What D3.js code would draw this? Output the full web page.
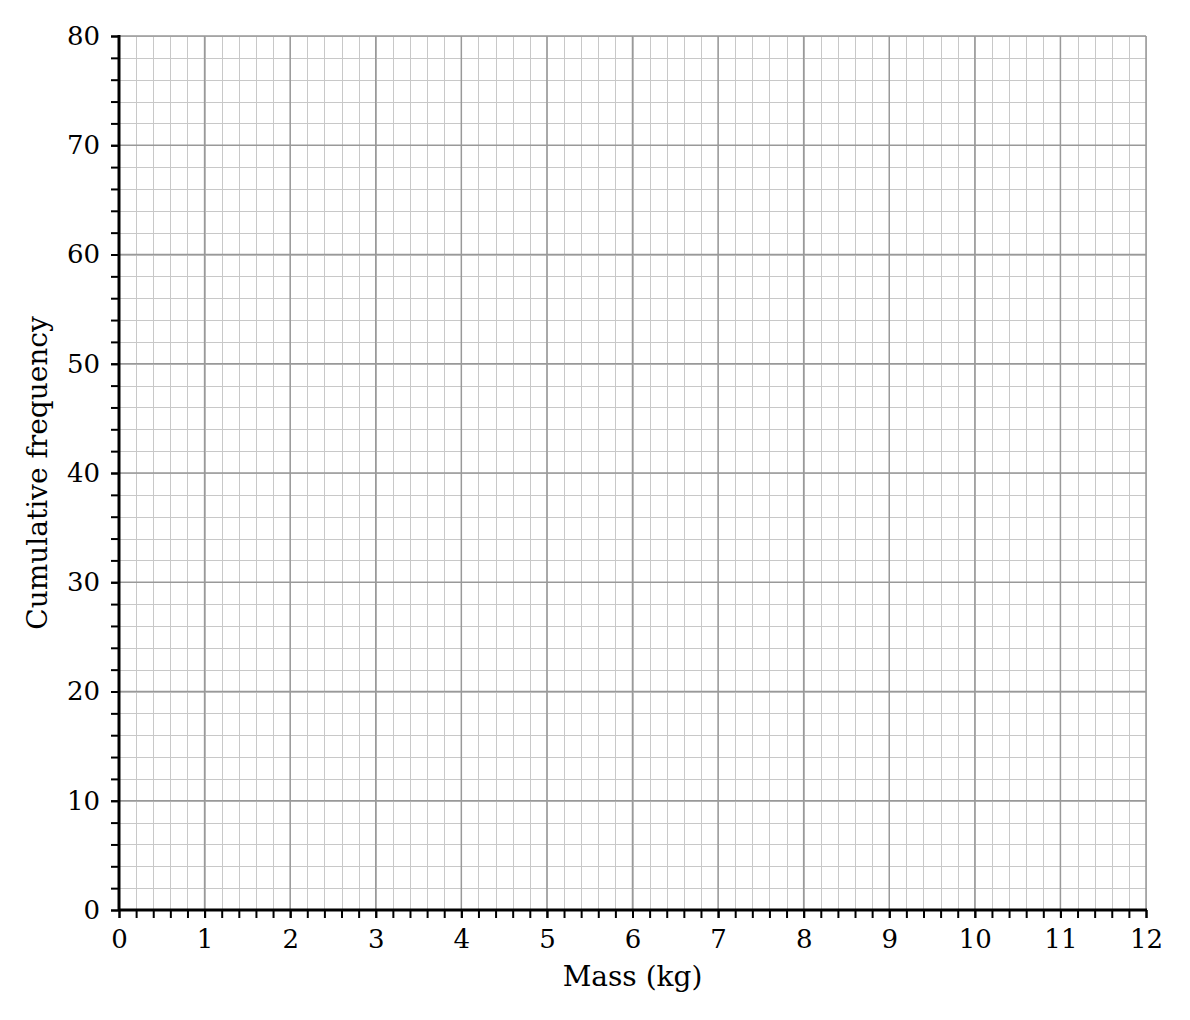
<!DOCTYPE html>
<html>
<head>
<meta charset="utf-8">
<script src="https://cdn.jsdelivr.net/npm/d3@7"></script>
<style>
  body { margin: 0; background: #fff; }
  svg text { font-family: "DejaVu Serif", serif; fill: #000; }
</style>
</head>
<body>
<svg id="chart" width="1190" height="1020"></svg>
<script>
const xDomain = [0, 12]
const yDomain = [0, 80]
const xMajorTicks = d3.range(0, 13, 1)
const xMinorTicks = d3.range(0, 12.001, 0.2)
const yMajorTicks = d3.range(0, 81, 10)
const yMinorTicks = d3.range(0, 80.001, 2)
const xLabel = "Mass (kg)"
const yLabel = "Cumulative frequency"

const svg = d3.select("#chart")
const margin = { top: 36, right: 44, bottom: 110, left: 119 }
const width = 1190 - margin.left - margin.right
const height = 1020 - margin.top - margin.bottom

const x = d3.scaleLinear().domain(xDomain).range([0, width])
const y = d3.scaleLinear().domain(yDomain).range([height, 0])
const g = svg.append("g").attr("transform", `translate(${margin.left},${margin.top})`)

// minor grid
g.append("g").selectAll("line")
  .data(xMinorTicks)
  .join("line")
  .attr("x1", (d) => Math.round(x(d)) + 0.5).attr("x2", (d) => Math.round(x(d)) + 0.5)
  .attr("y1", 0).attr("y2", height)
  .attr("stroke", "#c8c8c8").attr("stroke-width", 1)

g.append("g").selectAll("line")
  .data(yMinorTicks)
  .join("line")
  .attr("y1", (d) => Math.round(y(d)) + 0.5).attr("y2", (d) => Math.round(y(d)) + 0.5)
  .attr("x1", 0).attr("x2", width)
  .attr("stroke", "#c8c8c8").attr("stroke-width", 1)

// major grid
g.append("g").selectAll("line")
  .data(xMajorTicks)
  .join("line")
  .attr("x1", (d) => x(d)).attr("x2", (d) => x(d))
  .attr("y1", 0).attr("y2", height)
  .attr("stroke", "#999").attr("stroke-width", 1.5)

g.append("g").selectAll("line")
  .data(yMajorTicks)
  .join("line")
  .attr("y1", (d) => y(d)).attr("y2", (d) => y(d))
  .attr("x1", 0).attr("x2", width)
  .attr("stroke", "#999").attr("stroke-width", 1.5)

// axes: minor ticks first, then major ticks with labels
const styleAxis = (axis) => {
  axis.select(".domain").remove()
  axis.selectAll("line").attr("stroke", "#000").attr("stroke-width", 2)
}

g.append("g")
  .attr("transform", `translate(0,${height})`)
  .call(d3.axisBottom(x).tickValues(xMinorTicks).tickSize(8).tickFormat(""))
  .call(styleAxis)

g.append("g")
  .attr("transform", `translate(0,${height})`)
  .call(d3.axisBottom(x).tickValues(xMajorTicks).tickSize(8).tickPadding(12).tickFormat(d3.format("d")))
  .call(styleAxis)
  .call((axis) => axis.selectAll("text").attr("font-size", 26).attr("font-family", "DejaVu Serif"))

g.append("g")
  .call(d3.axisLeft(y).tickValues(yMinorTicks).tickSize(8).tickFormat(""))
  .call(styleAxis)

g.append("g")
  .call(d3.axisLeft(y).tickValues(yMajorTicks).tickSize(8).tickPadding(11).tickFormat(d3.format("d")))
  .call(styleAxis)
  .call((axis) => axis.selectAll("text").attr("font-size", 26).attr("font-family", "DejaVu Serif"))

// axis lines
g.append("line")
  .attr("x1", 0).attr("x2", width + 1)
  .attr("y1", height).attr("y2", height)
  .attr("stroke", "#000").attr("stroke-width", 3)

g.append("line")
  .attr("x1", 0).attr("x2", 0)
  .attr("y1", -1).attr("y2", height)
  .attr("stroke", "#000").attr("stroke-width", 3)

// axis titles
g.append("text")
  .attr("x", width / 2)
  .attr("y", height + 76)
  .attr("text-anchor", "middle")
  .attr("font-size", 28)
  .text(xLabel)

g.append("text")
  .attr("transform", `translate(-72,${height / 2}) rotate(-90)`)
  .attr("text-anchor", "middle")
  .attr("font-size", 28)
  .text(yLabel)
</script>
</body>
</html>
